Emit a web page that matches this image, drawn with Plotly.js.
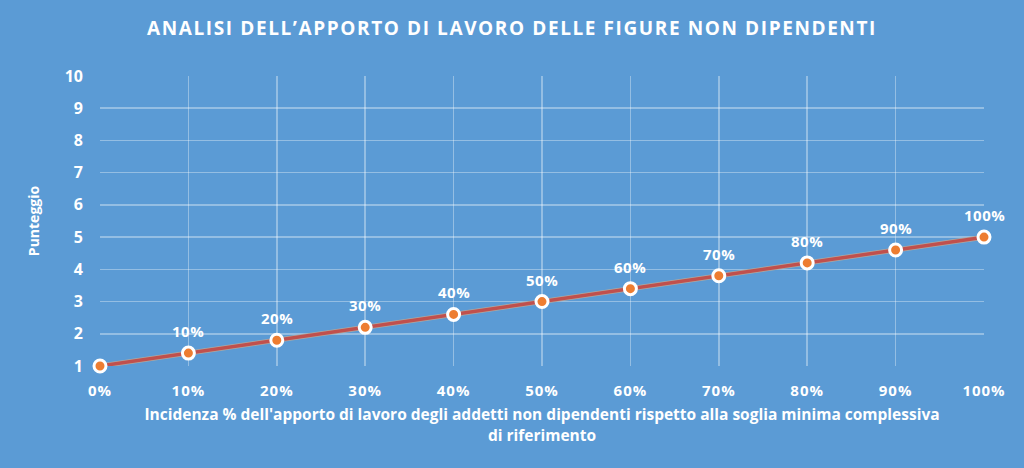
<!DOCTYPE html>
<html>
<head>
<meta charset="utf-8">
<script src="https://cdn.plot.ly/plotly-3.0.1.min.js"></script>
<style>
html,body{margin:0;padding:0;background:#5B9BD5;}
#chart{width:1024px;height:468px;}
.gtitle{letter-spacing:1.6px;}
.xtick text{letter-spacing:1px;}
.annotation-text{letter-spacing:0.5px;}
</style>
</head>
<body>
<div id="chart"></div>
<script>
const incidenza = [0, 10, 20, 30, 40, 50, 60, 70, 80, 90, 100];
const xTickLabels = ["0%", "10%", "20%", "30%", "40%", "50%", "60%", "70%", "80%", "90%", "100%"];
const punteggio = [1, 1.4, 1.8, 2.2, 2.6, 3, 3.4, 3.8, 4.2, 4.6, 5];
const etichette = ["", "10%", "20%", "30%", "40%", "50%", "60%", "70%", "80%", "90%", "100%"];
const yTicks = [1, 2, 3, 4, 5, 6, 7, 8, 9, 10];

const font = "Open Sans, Liberation Sans, sans-serif";

const shadow = {
  x: incidenza, y: punteggio, mode: 'lines', hoverinfo: 'skip',
  line: {color: '#B0A8A0', width: 5}, showlegend: false
};
const trace = {
  x: incidenza, y: punteggio, mode: 'lines+markers',
  line: {color: '#C0504D', width: 3.5},
  marker: {size: 12, color: '#ED7D31', line: {color: '#FFFFFF', width: 3}},
  showlegend: false, cliponaxis: false
};

const annotations = incidenza.map((x, i) => ({
  x: x, y: punteggio[i], text: etichette[i], showarrow: false,
  yshift: 22, xanchor: 'center', yanchor: 'middle',
  font: {family: font, size: 15, color: '#FFFFFF', weight: 'bold'}
})).filter(a => a.text !== "");

const layout = {
  width: 1024, height: 468,
  paper_bgcolor: '#5B9BD5', plot_bgcolor: '#5B9BD5',
  margin: {l: 100, r: 40, t: 76, b: 102},
  annotations: annotations,
  title: {
    text: "ANALISI DELL\u2019APPORTO DI LAVORO DELLE FIGURE NON DIPENDENTI",
    font: {family: font, size: 19, color: '#FFFFFF', weight: 'bold'},
    x: 0.5, xanchor: 'center', y: 0.94, yanchor: 'middle'
  },
  xaxis: {
    range: [0, 100], tickmode: 'array', tickvals: incidenza, ticktext: xTickLabels,
    showgrid: true, gridcolor: 'rgba(255,255,255,0.35)', gridwidth: 1.5,
    zeroline: false, showline: false, ticks: '',
    ticklabelstandoff: 14,
    tickfont: {family: font, size: 15, color: '#FFFFFF', weight: 'bold'},
    title: {
      text: "Incidenza % dell'apporto di lavoro degli addetti non dipendenti rispetto alla soglia minima complessiva<br>di riferimento",
      font: {family: font, size: 15.5, color: '#FFFFFF', weight: 'bold'},
      standoff: 10
    }
  },
  yaxis: {
    range: [1, 10], tickvals: yTicks,
    showgrid: true, gridcolor: 'rgba(255,255,255,0.35)', gridwidth: 1.5,
    zeroline: false, showline: false, ticks: '',
    ticklabelstandoff: 16,
    tickfont: {family: font, size: 16, color: '#FFFFFF', weight: 'bold'},
    title: {
      text: "Punteggio",
      font: {family: font, size: 14, color: '#FFFFFF', weight: 'bold'},
      standoff: 21
    }
  }
};

Plotly.newPlot('chart', [shadow, trace], layout, {displayModeBar: false, staticPlot: true});
</script>
</body>
</html>
